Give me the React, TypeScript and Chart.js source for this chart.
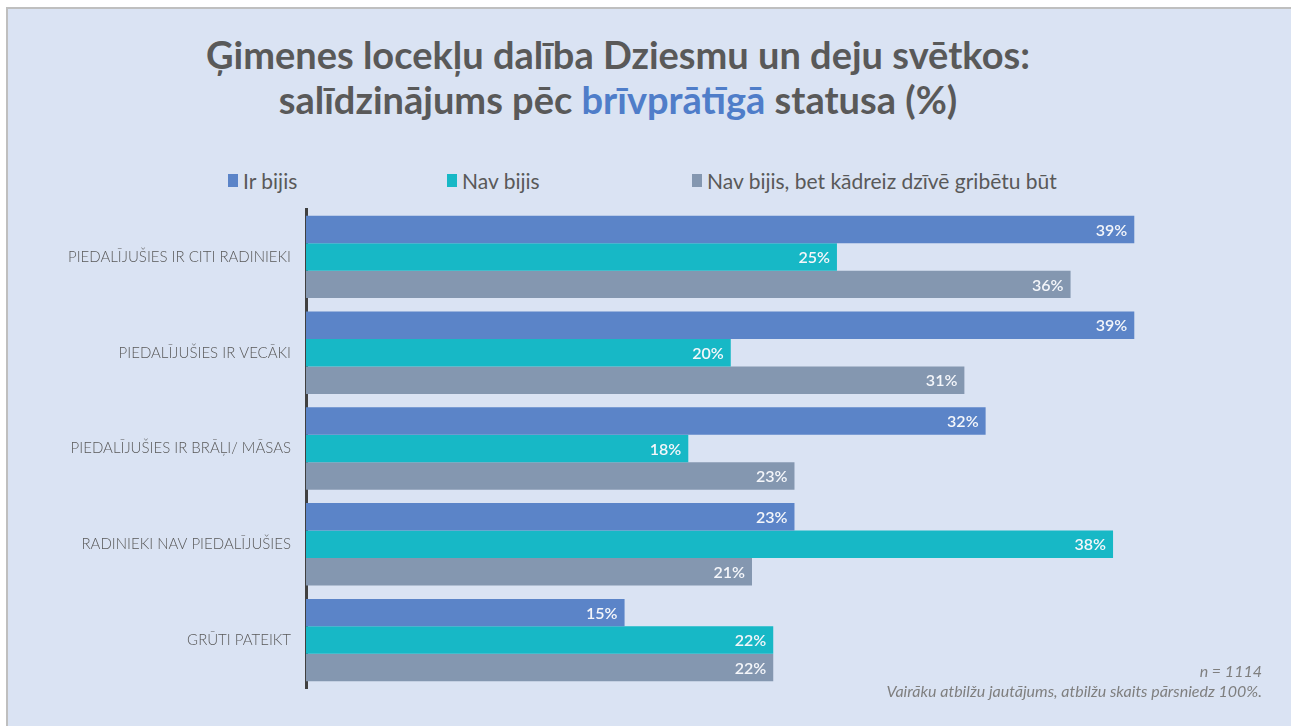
import React, { useEffect, useRef } from "react";
import { Chart, registerables } from "chart.js";

Chart.register(...registerables);

const categories = [
  "PIEDALĪJUŠIES IR CITI RADINIEKI",
  "PIEDALĪJUŠIES IR VECĀKI",
  "PIEDALĪJUŠIES IR BRĀĻI/ MĀSAS",
  "RADINIEKI NAV PIEDALĪJUŠIES",
  "GRŪTI PATEIKT",
];
const seriesNames = ["Ir bijis", "Nav bijis", "Nav bijis, bet kādreiz dzīvē gribētu būt"];
const irBijis = [39, 39, 32, 23, 15];
const navBijis = [25, 20, 18, 38, 22];
const navBijisGribetu = [36, 31, 23, 21, 22];
const seriesColors = ["#5B84C8", "#17B8C6", "#8497B0"];
const xMax = 42;

const FONT = "Lato, 'Noto Sans', sans-serif";

const valueLabels = {
  id: "valueLabels",
  afterDatasetsDraw(chart: any) {
    const ctx = chart.ctx;
    ctx.save();
    ctx.font = `600 16px ${FONT}`;
    ctx.fillStyle = "#F4F6FA";
    ctx.textAlign = "right";
    ctx.textBaseline = "middle";
    chart.data.datasets.forEach((ds: any, i: number) => {
      const meta = chart.getDatasetMeta(i);
      meta.data.forEach((bar: any, j: number) => {
        ctx.fillText(`${ds.data[j]}%`, bar.x - 7, bar.y + 1);
      });
    });
    ctx.restore();
  },
};

export default function App() {
  const ref = useRef<HTMLCanvasElement | null>(null);
  useEffect(() => {
    document.body.style.margin = "0";
    if (!ref.current) return;
    const chart = new Chart(ref.current, {
      type: "bar",
      data: {
        labels: categories,
        datasets: [irBijis, navBijis, navBijisGribetu].map((d, i) => ({
          label: seriesNames[i],
          data: d,
          backgroundColor: seriesColors[i],
          borderWidth: 0,
          categoryPercentage: 0.86,
          barPercentage: 1,
        })),
      },
      options: {
        indexAxis: "y",
        animation: false,
        responsive: false,
        maintainAspectRatio: false,
        layout: { padding: { left: 0, top: 209, right: 93, bottom: 38 } },
        plugins: {
          legend: { display: false },
          tooltip: { enabled: false },
        },
        scales: {
          x: { display: false, min: 0, max: xMax },
          y: {
            grid: { display: false, drawTicks: false },
            border: { display: true, color: "#404040", width: 3 },
            ticks: {
              color: "#595959",
              font: { family: FONT, size: 15, weight: "300" },
              padding: 15,
            },
            afterFit(scale: any) {
              scale.width = 306;
            },
          },
        },
      },
      plugins: [valueLabels],
    } as any);
    return () => chart.destroy();
  }, []);

  const legendX = [228, 447, 692];
  return (
    <div style={{ position: "absolute", left: 0, top: 0, width: 1291, height: 726, background: "#FFFFFF", overflow: "hidden", fontFamily: FONT }}>
      <div style={{ position: "absolute", left: 6, top: 7, right: 0, bottom: 0, background: "#DAE3F3", borderLeft: "2px solid #BFBFBF", borderTop: "2px solid #BFBFBF" }} />
      <div style={{ position: "absolute", left: 0, top: 32, width: 1236, textAlign: "center", color: "#595959", fontWeight: 700, fontSize: 38, lineHeight: "45px" }}>
        <div>Ģimenes locekļu dalība Dziesmu un deju svētkos:</div>
        <div>
          salīdzinājums pēc <span style={{ color: "#4F7DC9" }}>brīvprātīgā</span> statusa (%)
        </div>
      </div>
      {seriesNames.map((n, i) => (
        <div key={n} style={{ position: "absolute", left: legendX[i], top: 167, height: 26, display: "flex", alignItems: "center", color: "#595959", fontSize: 21 }}>
          <span style={{ display: "inline-block", width: 10, height: 13, background: seriesColors[i], marginRight: 5 }} />
          <span>{n}</span>
        </div>
      ))}
      <canvas ref={ref} width={1291} height={726} style={{ position: "absolute", left: 0, top: 0 }} />
      <div style={{ position: "absolute", right: 29, top: 661, textAlign: "right", color: "#7F7F7F", fontStyle: "italic", fontSize: 16, lineHeight: "20px" }}>
        <div>n = 1114</div>
        <div>Vairāku atbilžu jautājums, atbilžu skaits pārsniedz 100%.</div>
      </div>
    </div>
  );
}
